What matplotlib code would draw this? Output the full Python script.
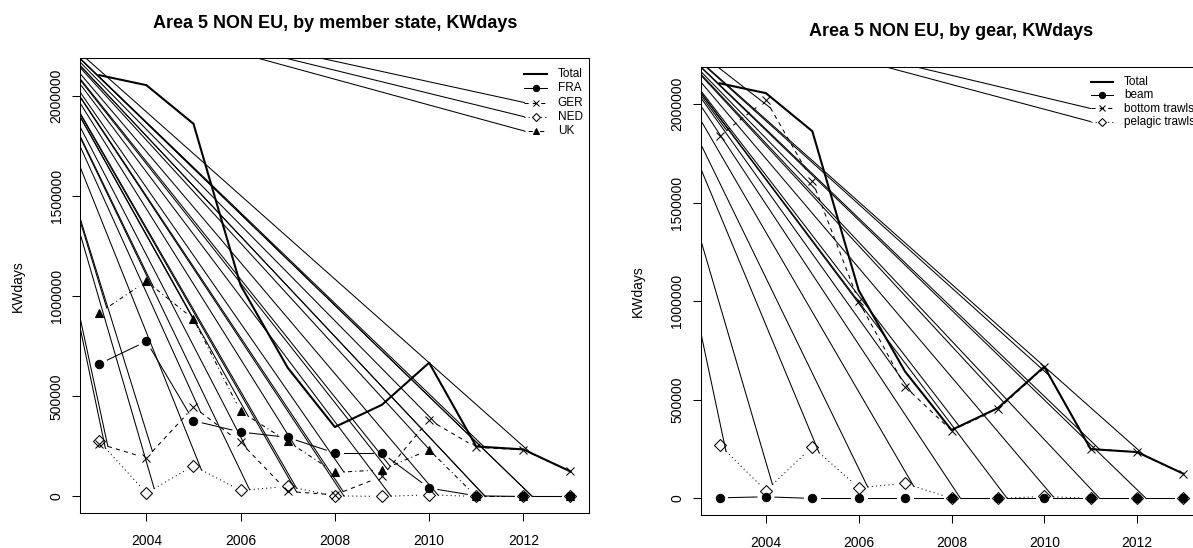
import matplotlib
matplotlib.use("Agg")
import matplotlib.pyplot as plt
import numpy as np

plt.rcParams.update({
    "font.family": ["Liberation Sans", "DejaVu Sans"],
    "font.size": 10,
    "axes.linewidth": 0.75,
    "xtick.major.width": 0.75,
    "ytick.major.width": 0.75,
    "xtick.major.size": 6,
    "ytick.major.size": 6,
    "figure.dpi": 100,
})

# ===== data (KWdays) =====
years = [2003, 2004, 2005, 2006, 2007, 2008, 2009, 2010, 2011, 2012, 2013]
total = [2105000, 2055000, 1862000, 1055000, 643000, 347000, 458000, 668000, 250000, 235000, 125000]

# by member state
fra = [662000, 775000, 378000, 322000, 295000, 217000, 217000, 42000, 3000, 0, 0]
ger = [263000, 192000, 447000, 270000, 25000, 8000, 100000, 383000, 245000, 233000, 125000]
ned = [275000, 17000, 153000, 30000, 50000, 3000, 0, 8000, 0, 0, 0]
uk = [917000, 1075000, 887000, 425000, 275000, 120000, 133000, 233000, 0, 0, 0]

# by gear
beam = [3000, 8000, 0, 0, 0, 0, 0, 0, 0, 0, 0]
bottom_trawls = [1838000, 2020000, 1610000, 1000000, 567000, 344000, 452000, 665000, 252000, 234000, 124000]
pelagic_trawls = [271000, 39000, 262000, 54000, 76000, 0, 0, 10000, 0, 0, 0]

yticks = [0, 500000, 1000000, 1500000, 2000000]
xticks = [2004, 2006, 2008, 2010, 2012]

FIG_W, FIG_H = 1193, 548
GAP = 9          # px gap round the points (R type="b")
LW = 0.75

# line styles: marker, dashes (None = solid), filled
STYLES = {
    "FRA": ("o", None, True),
    "GER": ("x", (4, 4), False),
    "NED": ("D", (1, 3), False),
    "UK": ("^", (1, 3, 4, 3), True),
    "beam": ("o", None, True),
    "bottom trawls": ("x", (4, 4), False),
    "pelagic trawls": ("D", (1, 3), False),
}


def add_panel(fig, left, top, width, height):
    return fig.add_axes([left / FIG_W, (FIG_H - top - height) / FIG_H,
                         width / FIG_W, height / FIG_H])


def img_px(x, y):
    """image pixel (top-left origin) -> display coords"""
    return np.array([x, FIG_H - y])


def draw_marker_kw(marker, filled, ms):
    kw = dict(marker=marker, markersize=ms, color="black", linestyle="none",
              markeredgewidth=LW)
    if not filled:
        kw["markerfacecolor"] = "none"
    return kw


def plot_b(ax, x, y, style, origin):
    """type='b' line with gaps; dashed paths get a stray line from origin"""
    marker, dashes, filled = style
    stray = dashes is not None
    inv = ax.transData.inverted()
    pts = ax.transData.transform(np.column_stack([x, y]))
    for p, q in zip(pts[:-1], pts[1:]):
        d = q - p
        length = np.hypot(*d)
        if length <= 2 * GAP:
            continue
        a = p + d / length * GAP
        b = q - d / length * GAP
        if stray:
            seg = inv.transform(np.array([origin, a]))
            ax.plot(seg[:, 0], seg[:, 1], color="black", lw=LW)
        seg = inv.transform(np.array([a, b]))
        if dashes is None:
            ax.plot(seg[:, 0], seg[:, 1], color="black", lw=LW)
        else:
            ax.plot(seg[:, 0], seg[:, 1], color="black", lw=LW, dashes=dashes)
    ax.plot(x, y, **draw_marker_kw(marker, filled, 6))


def draw_legend(ax, fig, entries, left, top, x0, y0, step, origin):
    inv = ax.transData.inverted()
    for i, (label, style) in enumerate(entries):
        yy = top + y0 + i * step
        a = img_px(left + x0, yy)
        b = img_px(left + x0 + 22.5, yy)
        mid = (a + b) / 2
        seg = inv.transform(np.array([a, b]))
        if style is None:
            ax.plot(seg[:, 0], seg[:, 1], color="black", lw=1.5)
        else:
            marker, dashes, filled = style
            if dashes is None:
                ax.plot(seg[:, 0], seg[:, 1], color="black", lw=LW)
            else:
                s = inv.transform(np.array([origin, a]))
                ax.plot(s[:, 0], s[:, 1], color="black", lw=LW)
                ax.plot(seg[:, 0], seg[:, 1], color="black", lw=LW, dashes=dashes)
            m = inv.transform(mid.reshape(1, 2))[0]
            kw = draw_marker_kw(marker, filled, 4.5)
            if not filled:
                kw["markerfacecolor"] = "white"
            ax.plot([m[0]], [m[1]], **kw)
        fig.text((left + x0 + 33.5) / FIG_W, (FIG_H - yy) / FIG_H, label,
                 ha="left", va="center", fontsize=8.5)


def setup_axes(ax):
    ax.set_xlim(2002.6, 2013.4)
    ax.set_ylim(-84200, 2189200)
    ax.set_autoscale_on(False)
    ax.set_xticks(xticks)
    ax.set_yticks(yticks)
    ax.set_yticklabels([str(v) for v in yticks], rotation=90, va="center")
    ax.tick_params(axis="x", pad=9, labelsize=10)
    ax.tick_params(axis="y", pad=6, labelsize=10)


def panel(fig, geom, title, title_y, series, legend_geom):
    left, top, width, height = geom
    ax = add_panel(fig, left, top, width, height)
    setup_axes(ax)
    origin = img_px(left - 71, top - 68)

    ax.plot(years, total, color="black", lw=1.5)
    for name, vals in series:
        plot_b(ax, years, vals, STYLES[name], origin)

    entries = [("Total", None)] + [(name, STYLES[name]) for name, _ in series]
    x0, y0, step = legend_geom
    draw_legend(ax, fig, entries, left, top, x0, y0, step, origin)

    fig.text((left + width / 2) / FIG_W, (FIG_H - title_y) / FIG_H, title,
             ha="center", va="center", fontsize=13, fontweight="bold")
    fig.text((left - 63) / FIG_W, (FIG_H - (top + height / 2)) / FIG_H, "KWdays",
             ha="center", va="center", rotation=90, fontsize=10)
    return ax


def main():
    fig = plt.figure(figsize=(FIG_W / 100, FIG_H / 100), dpi=100)

    panel(fig, (80.4, 58.3, 508.9, 455.0),
          "Area 5 NON EU, by member state, KWdays", 23,
          [("FRA", fra), ("GER", ger), ("NED", ned), ("UK", uk)],
          (443.9, 15.7, 14.25))

    panel(fig, (701.0, 66.7, 501.0, 448.3),
          "Area 5 NON EU, by gear, KWdays", 32,
          [("beam", beam), ("bottom trawls", bottom_trawls),
           ("pelagic trawls", pelagic_trawls)],
          (389.7, 15.6, 13.1))

    fig.savefig("out.png", dpi=100)
    plt.close(fig)


if __name__ == "__main__":
    main()
